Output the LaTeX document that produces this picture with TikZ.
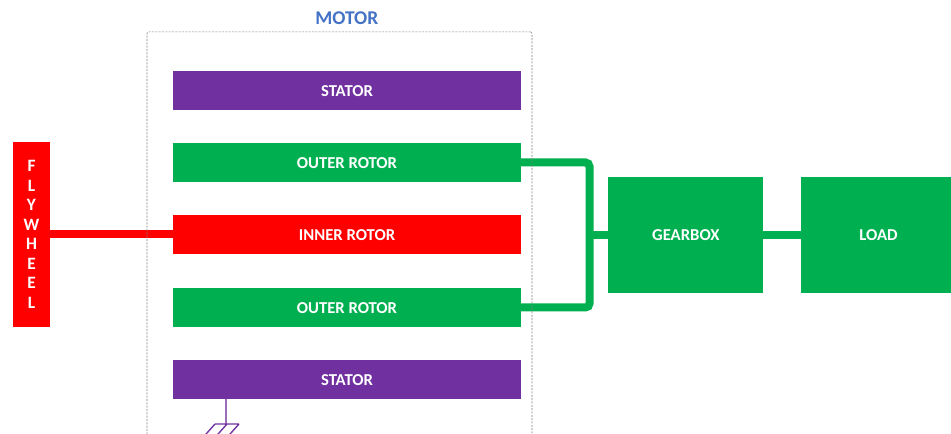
\documentclass[tikz,border=0pt]{standalone}
\usepackage{fontspec}
\setmainfont{Carlito}
\usepackage{xcolor}
\usepackage{tikz}
\usetikzlibrary{arrows.meta,positioning,calc}
\definecolor{StatorPurple}{HTML}{7030A0}
\definecolor{RotorGreen}{HTML}{00B050}
\definecolor{InnerRed}{HTML}{FF0000}
\definecolor{TitleBlue}{HTML}{4472C4}
\tikzset{
	block/.style={draw=none,inner sep=0pt,text=white,font=\bfseries\fontsize{12.5}{14}\selectfont,align=center},
	bar/.style={block,minimum width=261pt,minimum height=29.5pt,text height=10pt,text depth=.5pt},
	shaft/.style={line width=6pt,shorten >=-1pt,shorten <=-1pt}
}

\begin{document}
\begin{tikzpicture}[x=.75pt,y=-.75pt]
		\useasboundingbox (0,0) rectangle (951,434);
		\clip (0,0) rectangle (951,434);
		\node[bar,fill=StatorPurple] (statorA) at (347,90.5) {STATOR};
		\node[bar,fill=RotorGreen] (outerA) at (347,162.5) {OUTER ROTOR};
		\node[bar,fill=InnerRed] (inner) at (347,234.5) {INNER ROTOR};
		\node[bar,fill=RotorGreen] (outerB) at (347,307.5) {OUTER ROTOR};
		\node[bar,fill=StatorPurple] (statorB) at (347,379.5) {STATOR};
		\node[block,fill=InnerRed,minimum width=27.75pt,minimum height=138.75pt,font=\bfseries\fontsize{13}{14.6}\selectfont] (flywheel) at (31.5,234.5) {F\\L\\Y\\W\\H\\E\\E\\L};
		\node[block,fill=RotorGreen,minimum width=116.25pt,minimum height=87.5pt] (gearbox) at (685.8,235) {GEARBOX};
		\node[block,fill=RotorGreen,minimum width=116.25pt,minimum height=87.5pt] (load) at (878.5,235) {LOAD};
		\coordinate (bus) at (589.5,235);
		\draw[shaft,InnerRed] (flywheel) -- (inner);
		\draw[shaft,RotorGreen,rounded corners=3pt] (outerA.east) -| (bus) |- (outerB.east);
		\draw[shaft,RotorGreen] (bus) -- (gearbox);
		\draw[shaft,RotorGreen] (gearbox) -- (load);
		\node[draw=gray,dash pattern=on 1.5pt off 1pt,line width=.4pt,rounded corners=1pt,minimum width=288.75pt,minimum height=322pt,inner sep=0pt] (motor) at (339.5,246.5) {};
		\node[font=\bfseries\fontsize{14.6}{16}\selectfont,text=TitleBlue,inner sep=0pt] (title) at (346.8,18.5) {MOTOR};
		% ground under the lower stator
		\coordinate (groundTop) at (226,399);
		\coordinate (ground) at (226,424);
		\draw[StatorPurple!70,line width=.8pt] (groundTop) -- (ground);
		\draw[StatorPurple,line width=1pt] (215,424)--(239,424)
			(239,424)--(207,460) (227,424)--(195,460) (215,424)--(183,460);
	\end{tikzpicture}
\end{document}
